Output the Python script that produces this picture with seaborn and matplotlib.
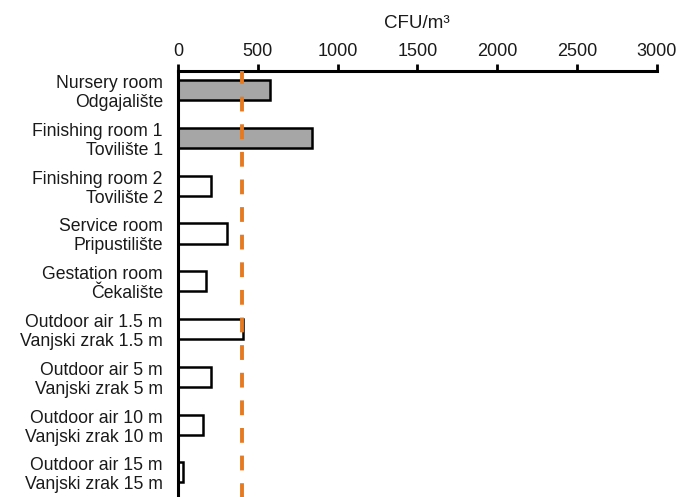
import seaborn as sns
import pandas as pd
import matplotlib.pyplot as plt

####Data
rooms = ["Nursery room\nOdgajalište",
         "Finishing room 1\nTovilište 1",
         "Finishing room 2\nTovilište 2",
         "Service room\nPripustilište",
         "Gestation room\nČekalište",
         "Outdoor air 1.5 m\nVanjski zrak 1.5 m",
         "Outdoor air 5 m\nVanjski zrak 5 m",
         "Outdoor air 10 m\nVanjski zrak 10 m",
         "Outdoor air 15 m\nVanjski zrak 15 m"]
cfu = [576, 839, 206, 307, 175, 405, 206, 155, 33]
fills = ["#A6A6A6", "#A6A6A6", "white", "white", "white",
         "white", "white", "white", "white"]
limit = 400
xticks = [0, 500, 1000, 1500, 2000, 2500, 3000]

df = pd.DataFrame({"room": rooms, "cfu": cfu})

sns.set_style("white")
plt.rcParams['font.family'] = ['Liberation Sans', 'DejaVu Sans']

fig = plt.figure(figsize=(6.77, 4.97), dpi=100)
ax = fig.add_axes([0.263, -0.01, 0.707, 0.867])

sns.barplot(data=df, x="cfu", y="room", hue="room", palette=fills,
            orient="h", width=0.42, edgecolor="black", linewidth=1.8,
            legend=False, ax=ax)

####Limit line
ax.axvline(limit, color="#E57A22", linewidth=2.8, dashes=(3.8, 3.3), zorder=3)

ax.set_xlim(0, 3000)
ax.set_ylim(8.62, -0.4)
ax.set_xticks(xticks)
ax.xaxis.set_ticks_position("top")
ax.xaxis.set_label_position("top")
ax.tick_params(axis="x", direction="out", length=5, width=2, labelsize=13,
               pad=3, colors="black")
ax.tick_params(axis="y", length=0, labelsize=12.7, pad=11)
for lab in ax.get_yticklabels():
    lab.set_horizontalalignment("right")
    lab.set_linespacing(1.15)
    lab.set_color("#1a1a1a")
for lab in ax.get_xticklabels():
    lab.set_color("#1a1a1a")
ax.set_xlabel("CFU/m³", fontsize=13.5, labelpad=11, color="#1a1a1a")
ax.set_ylabel("")

for s in ["right", "bottom"]:
    ax.spines[s].set_visible(False)
for s in ["top", "left"]:
    ax.spines[s].set_color("black")
    ax.spines[s].set_linewidth(2.2)

plt.savefig("out.png", dpi=100)
